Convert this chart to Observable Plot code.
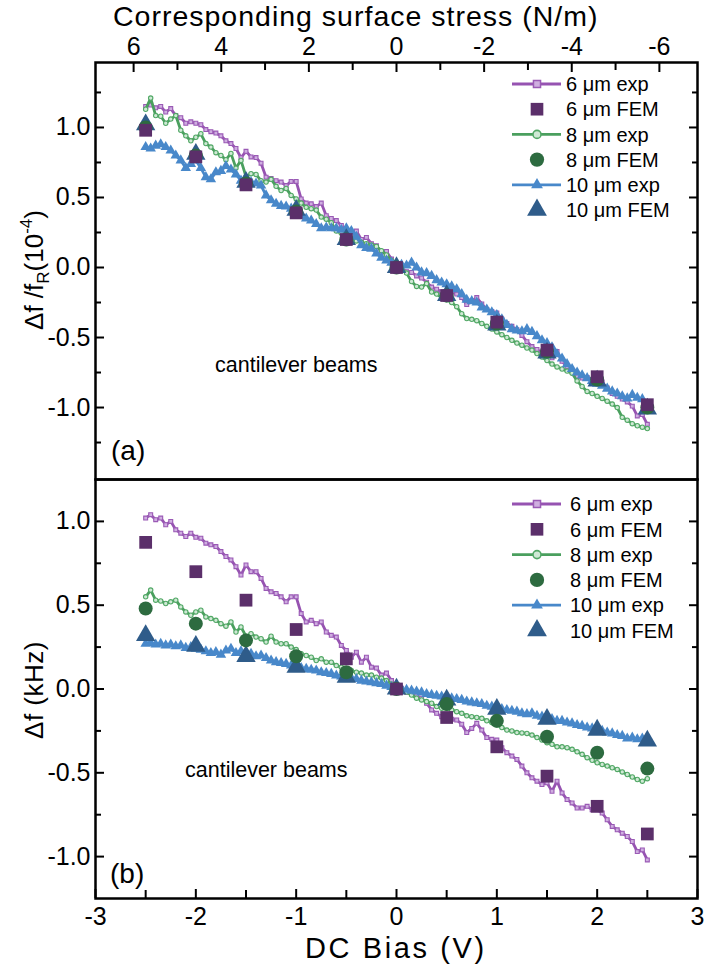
<!DOCTYPE html>
<html><head><meta charset="utf-8">
<script src="https://cdn.jsdelivr.net/npm/d3@7"></script>
<script src="https://cdn.jsdelivr.net/npm/@observablehq/plot@0.6"></script>
<style>
html,body{margin:0;padding:0;background:#fff;}
#wrap{position:relative;width:704px;height:970px;overflow:hidden;background:#fff;}
#wrap svg{position:absolute;left:0;}
</style></head><body><div id="wrap"></div>
<script>
// ---------- DATA ----------
const bias = [-2.5,-2.45,-2.4,-2.35,-2.3,-2.25,-2.2,-2.15,-2.1,-2.05,
-2,-1.95,-1.9,-1.85,-1.8,-1.75,-1.7,-1.65,-1.6,-1.55,
-1.5,-1.45,-1.4,-1.35,-1.3,-1.25,-1.2,-1.15,-1.1,-1.05,
-1,-0.95,-0.9,-0.85,-0.8,-0.75,-0.7,-0.65,-0.6,-0.55,
-0.5,-0.45,-0.4,-0.35,-0.3,-0.25,-0.2,-0.15,-0.1,-0.05,
0,0.05,0.1,0.15,0.2,0.25,0.3,0.35,0.4,0.45,
0.5,0.55,0.6,0.65,0.7,0.75,0.8,0.85,0.9,0.95,
1,1.05,1.1,1.15,1.2,1.25,1.3,1.35,1.4,1.45,
1.5,1.55,1.6,1.65,1.7,1.75,1.8,1.85,1.9,1.95,
2,2.05,2.1,2.15,2.2,2.25,2.3,2.35,2.4,2.45,
2.5];

// (a) normalized shift, 1e-4
const top6 = [1.15,1.16,1.14,1.15,1.11,1.135,1.085,1.07,1.03,1.04,
1.03,1.02,0.985,0.97,0.96,0.94,0.905,0.885,0.85,0.785,
0.83,0.79,0.785,0.745,0.645,0.635,0.62,0.61,0.585,0.615,
0.615,0.49,0.46,0.455,0.435,0.46,0.37,0.35,0.335,0.3,
0.27,0.23,0.26,0.2,0.215,0.17,0.155,0.11,0.115,0.06,
0.02,0.0,-0.03,-0.035,-0.06,-0.075,-0.105,-0.14,-0.155,-0.175,
-0.18,-0.175,-0.19,-0.215,-0.265,-0.24,-0.215,-0.26,-0.3,-0.315,
-0.325,-0.37,-0.4,-0.42,-0.445,-0.485,-0.53,-0.565,-0.585,-0.61,
-0.6,-0.645,-0.6,-0.67,-0.71,-0.735,-0.78,-0.79,-0.785,-0.8,
-0.8,-0.82,-0.86,-0.9,-0.92,-0.94,-0.96,-0.99,-1.06,-1.05,
-1.12];
const top8 = [1.13,1.21,1.085,1.08,1.03,1.06,1.085,0.98,0.94,0.905,
0.93,0.955,0.885,0.86,0.82,0.8,0.77,0.815,0.71,0.765,
0.65,0.67,0.665,0.62,0.61,0.63,0.58,0.55,0.565,0.515,
0.49,0.46,0.43,0.42,0.41,0.36,0.345,0.32,0.26,0.245,
0.22,0.21,0.19,0.18,0.17,0.16,0.15,0.12,0.09,0.05,
0.01,-0.01,-0.04,-0.1,-0.135,-0.14,-0.115,-0.175,-0.19,-0.215,
-0.23,-0.25,-0.28,-0.33,-0.365,-0.37,-0.38,-0.4,-0.42,-0.44,
-0.46,-0.48,-0.5,-0.52,-0.54,-0.555,-0.575,-0.59,-0.615,-0.64,
-0.665,-0.69,-0.71,-0.725,-0.74,-0.755,-0.81,-0.85,-0.885,-0.9,
-0.92,-0.935,-0.955,-0.975,-1.0,-1.07,-1.09,-1.115,-1.13,-1.14,
-1.15];
const top10 = [0.86,0.85,0.87,0.88,0.86,0.835,0.8,0.765,0.71,0.74,
0.765,0.71,0.645,0.63,0.68,0.69,0.725,0.7,0.665,0.62,
0.6,0.61,0.6,0.585,0.515,0.48,0.455,0.44,0.435,0.42,
0.39,0.37,0.35,0.335,0.31,0.28,0.285,0.28,0.28,0.27,
0.28,0.26,0.22,0.16,0.14,0.135,0.1,0.07,0.05,0.035,
0.025,0.02,0.014,0.035,0.0,-0.035,-0.04,-0.06,-0.09,-0.107,
-0.12,-0.135,-0.155,-0.19,-0.23,-0.24,-0.25,-0.285,-0.3,-0.32,
-0.34,-0.37,-0.41,-0.44,-0.45,-0.455,-0.44,-0.46,-0.49,-0.52,
-0.54,-0.57,-0.62,-0.65,-0.69,-0.725,-0.75,-0.77,-0.79,-0.81,
-0.83,-0.845,-0.865,-0.885,-0.9,-0.92,-0.935,-0.91,-0.93,-0.94,
-0.985];

// (b) shift, kHz
const bot6 = [1.02,1.04,1.01,1.02,0.98,1.0,0.95,0.93,0.91,0.93,
0.905,0.9,0.87,0.86,0.85,0.82,0.79,0.77,0.73,0.68,
0.74,0.7,0.7,0.66,0.6,0.58,0.57,0.55,0.52,0.55,
0.55,0.45,0.4,0.41,0.39,0.4,0.34,0.32,0.31,0.26,
0.23,0.19,0.22,0.16,0.19,0.13,0.125,0.083,0.095,0.05,
0.02,0.005,-0.02,-0.025,-0.04,-0.055,-0.085,-0.125,-0.145,-0.165,
-0.18,-0.18,-0.185,-0.21,-0.26,-0.235,-0.205,-0.245,-0.29,-0.3,
-0.305,-0.35,-0.38,-0.4,-0.42,-0.46,-0.5,-0.53,-0.55,-0.57,
-0.56,-0.61,-0.55,-0.62,-0.66,-0.68,-0.71,-0.71,-0.7,-0.72,
-0.72,-0.74,-0.78,-0.82,-0.84,-0.86,-0.88,-0.91,-0.97,-0.96,
-1.02];
const bot8 = [0.55,0.59,0.53,0.525,0.51,0.52,0.53,0.49,0.46,0.44,
0.46,0.47,0.43,0.42,0.41,0.39,0.375,0.4,0.34,0.37,
0.315,0.33,0.31,0.3,0.28,0.315,0.28,0.27,0.27,0.25,
0.235,0.21,0.2,0.19,0.17,0.18,0.16,0.16,0.14,0.13,
0.11,0.11,0.1,0.095,0.083,0.083,0.07,0.065,0.05,0.03,
0.012,0.0,-0.018,-0.036,-0.055,-0.065,-0.075,-0.085,-0.105,-0.115,
-0.115,-0.125,-0.135,-0.145,-0.16,-0.165,-0.17,-0.175,-0.19,-0.2,
-0.215,-0.23,-0.245,-0.25,-0.26,-0.262,-0.265,-0.275,-0.29,-0.305,
-0.32,-0.33,-0.345,-0.345,-0.35,-0.36,-0.375,-0.39,-0.41,-0.425,
-0.44,-0.45,-0.46,-0.47,-0.48,-0.495,-0.51,-0.525,-0.54,-0.55,
-0.535];
const bot10 = [0.27,0.275,0.265,0.27,0.26,0.265,0.255,0.26,0.245,0.25,
0.24,0.235,0.225,0.215,0.22,0.205,0.23,0.24,0.215,0.225,
0.2,0.21,0.195,0.2,0.185,0.17,0.16,0.155,0.15,0.14,
0.135,0.125,0.12,0.115,0.11,0.1,0.095,0.09,0.08,0.075,
0.07,0.065,0.06,0.05,0.045,0.04,0.035,0.03,0.02,0.012,
0.005,0.0,-0.005,-0.01,-0.015,-0.02,-0.03,-0.035,-0.04,-0.045,
-0.05,-0.055,-0.06,-0.065,-0.075,-0.08,-0.085,-0.09,-0.1,-0.105,
-0.11,-0.12,-0.125,-0.13,-0.135,-0.145,-0.15,-0.145,-0.16,-0.165,
-0.175,-0.18,-0.19,-0.19,-0.2,-0.205,-0.215,-0.22,-0.23,-0.235,
-0.245,-0.25,-0.26,-0.265,-0.275,-0.28,-0.295,-0.29,-0.3,-0.295,
-0.305];

// FEM
const femBias = [-2.5,-2,-1.5,-1,-0.5,0,0.5,1,1.5,2,2.5];
const femTop6  = [0.98,0.79,0.59,0.39,0.2,0,-0.2,-0.39,-0.59,-0.78,-0.98];
const femTop8  = [1.0,0.8,0.6,0.4,0.2,0,-0.2,-0.4,-0.6,-0.8,-1.0];
const femTop10 = [1.02,0.81,0.61,0.41,0.2,0,-0.2,-0.41,-0.61,-0.81,-1.01];
const femBot6  = [0.875,0.7,0.53,0.355,0.18,0,-0.17,-0.345,-0.52,-0.7,-0.865];
const femBot8  = [0.48,0.39,0.29,0.195,0.1,0,-0.09,-0.19,-0.285,-0.38,-0.475];
const femBot10 = [0.32,0.255,0.195,0.13,0.07,0,-0.065,-0.12,-0.18,-0.245,-0.31];

// tick labels
const biasTicks = [-3,-2,-1,0,1,2,3];
const biasMinor = [-2.5,-1.5,-0.5,0.5,1.5,2.5];
const yTicks = [-1,-0.5,0,0.5,1];
const yMinorA = [-1.25,-0.75,-0.25,0.25,0.75,1.25];
const yMinorB = [-0.75,-0.25,0.25,0.75];
const stressTicks = [6,4,2,0,-2,-4,-6];
const stressMinor = [5,3,1,-1,-3,-5];
const STRESS_PER_V = 2.29; // N/m per volt (top axis conversion)

const legendLabels = ["6 μm exp","6 μm FEM","8 μm exp","8 μm FEM","10 μm exp","10 μm FEM"];

// ---------- STYLE ----------
const FONT = '"Liberation Sans", Arial, Helvetica, sans-serif';
const C6 = "#9653b1", C6m = "#9a5ab5", C6mf = "#cfaee0", C6F = "#5b2f6a";
const C8 = "#4a9f5e", C8m = "#52a866", C8mf = "#cfe9d5", C8F = "#2d6b40";
const C10 = "#4888ca", C10F = "#2f5c8a";

const tab = (arr) => bias.map((b, i) => ({b, v: arr[i]}));
const ftab = (arr) => femBias.map((b, i) => ({b, v: arr[i]}));

function seriesMarks(s6, s8, s10, f6, f8, f10) {
  return [
    Plot.line(tab(s6), {x: "b", y: "v", stroke: C6, strokeWidth: 2.8}),
    Plot.dot(tab(s6), {x: "b", y: "v", symbol: "square", r: 2.2, stroke: C6m, fill: C6mf, strokeWidth: 1.1}),
    Plot.line(tab(s8), {x: "b", y: "v", stroke: C8, strokeWidth: 2.8}),
    Plot.dot(tab(s8), {x: "b", y: "v", symbol: "circle", r: 2.2, stroke: C8m, fill: C8mf, strokeWidth: 1.1}),
    Plot.line(tab(s10), {x: "b", y: "v", stroke: C10, strokeWidth: 2.8}),
    Plot.dot(tab(s10), {x: "b", y: "v", symbol: "triangle", r: 3.9, fill: C10}),
    Plot.dot(ftab(f10), {x: "b", y: "v", symbol: "triangle", r: 7.2, fill: C10F}),
    Plot.dot(ftab(f8), {x: "b", y: "v", symbol: "circle", r: 7, fill: C8F}),
    Plot.dot(ftab(f6), {x: "b", y: "v", symbol: "square", r: 7.2, fill: C6F})
  ];
}

function yAxes(minor) {
  return [
    Plot.axisY(yTicks, {anchor: "left", tickSize: 0, tickPadding: 5, tickFormat: d => d.toFixed(1), label: null, fontSize: 25}),
    Plot.axisY(yTicks, {anchor: "left", tickSize: -9, strokeWidth: 2, fill: "none", tickFormat: () => "", label: null}),
    Plot.axisY(minor, {anchor: "left", tickSize: -6, strokeWidth: 2, fill: "none", tickFormat: () => "", label: null}),
    Plot.axisY(yTicks, {anchor: "right", tickSize: -9, strokeWidth: 2, fill: "none", tickFormat: () => "", label: null}),
    Plot.axisY(minor, {anchor: "right", tickSize: -6, strokeWidth: 2, fill: "none", tickFormat: () => "", label: null})
  ];
}

const wrap = document.getElementById("wrap");

// ---------- PANEL (a) ----------
const pa = Plot.plot({
  width: 704, height: 480,
  marginLeft: 95, marginRight: 7, marginTop: 62, marginBottom: 1,
  x: {domain: [-3, 3]},
  y: {domain: [-1.514, 1.464]},
  style: {fontFamily: FONT, fontSize: "25px", color: "#000", background: "transparent", overflow: "visible"},
  marks: [
    ...seriesMarks(top6, top8, top10, femTop6, femTop8, femTop10),
    ...yAxes(yMinorA),
    Plot.axisX(stressTicks.map(s => -s / STRESS_PER_V), {anchor: "top", tickSize: 0, tickPadding: 8,
      tickFormat: v => String(Math.round(-v * STRESS_PER_V)), label: null, fontSize: 25}),
    Plot.axisX(stressTicks.map(s => -s / STRESS_PER_V), {anchor: "top", tickSize: -9, strokeWidth: 2, fill: "none", tickFormat: () => "", label: null}),
    Plot.axisX(stressMinor.map(s => -s / STRESS_PER_V), {anchor: "top", tickSize: -7, strokeWidth: 2, fill: "none", tickFormat: () => "", label: null}),
    Plot.frame({stroke: "#000", strokeWidth: 2.5})
  ]
});
pa.style.top = "0px";
wrap.appendChild(pa);

// ---------- PANEL (b) ----------
const pb = Plot.plot({
  width: 704, height: 492,
  marginLeft: 95, marginRight: 7, marginTop: 1, marginBottom: 72,
  x: {domain: [-3, 3]},
  y: {domain: [-1.25, 1.25]},
  style: {fontFamily: FONT, fontSize: "25px", color: "#000", background: "transparent", overflow: "visible"},
  marks: [
    ...seriesMarks(bot6, bot8, bot10, femBot6, femBot8, femBot10),
    ...yAxes(yMinorB),
    Plot.axisX(biasTicks, {anchor: "bottom", tickSize: 0, tickPadding: 9, tickFormat: d => String(d), label: null, fontSize: 25}),
    Plot.axisX(biasTicks, {anchor: "bottom", tickSize: -9, strokeWidth: 2, fill: "none", tickFormat: () => "", label: null}),
    Plot.axisX(biasMinor, {anchor: "bottom", tickSize: -8, strokeWidth: 2, fill: "none", tickFormat: () => "", label: null}),
    Plot.frame({stroke: "#000", strokeWidth: 2.5})
  ]
});
pb.style.top = "478px";
wrap.appendChild(pb);

// ---------- TEXT & LEGENDS ----------
const ov = d3.select(wrap).append("svg")
  .attr("width", 704).attr("height", 970)
  .style("top", "0px").style("pointer-events", "none")
  .style("font-family", FONT);

ov.append("text").attr("x", 113).attr("y", 26)
  .attr("font-size", 28.5).attr("letter-spacing", 1).text("Corresponding surface stress (N/m)");

const la = ov.append("text").attr("transform", "translate(43,270) rotate(-90)")
  .attr("text-anchor", "middle").attr("font-size", 26);
la.append("tspan").text("Δf /f");
la.append("tspan").attr("font-size", 17).attr("dy", 6).text("R");
la.append("tspan").attr("dy", -6).text("(10");
la.append("tspan").attr("font-size", 17).attr("dy", -11).text("-4");
la.append("tspan").attr("dy", 11).text(")");

ov.append("text").attr("transform", "translate(43,690) rotate(-90)")
  .attr("text-anchor", "middle").attr("font-size", 26).attr("letter-spacing", 0.5).text("Δf (kHz)");

ov.append("text").attr("x", 305).attr("y", 958)
  .attr("font-size", 29).attr("letter-spacing", 2.6).text("DC Bias (V)");

ov.append("text").attr("x", 111).attr("y", 460).attr("font-size", 28).text("(a)");
ov.append("text").attr("x", 110).attr("y", 883).attr("font-size", 28).text("(b)");
ov.append("text").attr("x", 215).attr("y", 372).attr("font-size", 21.5).text("cantilever beams");
ov.append("text").attr("x", 185).attr("y", 777).attr("font-size", 21.5).text("cantilever beams");

const legendStyle = [
  {line: C6, sym: d3.symbolSquare, size: 50, fill: C6mf, stroke: C6m, sw: 1.5},
  {line: null, sym: d3.symbolSquare, size: 160, fill: C6F, stroke: "none", sw: 0},
  {line: C8, sym: d3.symbolCircle, size: 50, fill: C8mf, stroke: C8m, sw: 1.6},
  {line: null, sym: d3.symbolCircle, size: 160, fill: C8F, stroke: "none", sw: 0},
  {line: C10, sym: d3.symbolTriangle, size: 60, fill: C10, stroke: "none", sw: 0},
  {line: null, sym: d3.symbolTriangle, size: 170, fill: C10F, stroke: "none", sw: 0}
];
function drawLegend(y0, step, textX) {
  legendLabels.forEach((lab, i) => {
    const st = legendStyle[i];
    const y = y0 + i * step;
    if (st.line) ov.append("line").attr("x1", 512).attr("x2", 561).attr("y1", y).attr("y2", y)
      .attr("stroke", st.line).attr("stroke-width", 2.8);
    ov.append("path").attr("d", d3.symbol(st.sym, st.size)())
      .attr("transform", `translate(537,${y})`)
      .attr("fill", st.fill).attr("stroke", st.stroke).attr("stroke-width", st.sw);
    ov.append("text").attr("x", textX).attr("y", y).attr("dy", "0.36em")
      .attr("font-size", 20).text(lab);
  });
}
drawLegend(84, 25.2, 566);
drawLegend(504, 25.3, 570);
</script>
</body></html>
